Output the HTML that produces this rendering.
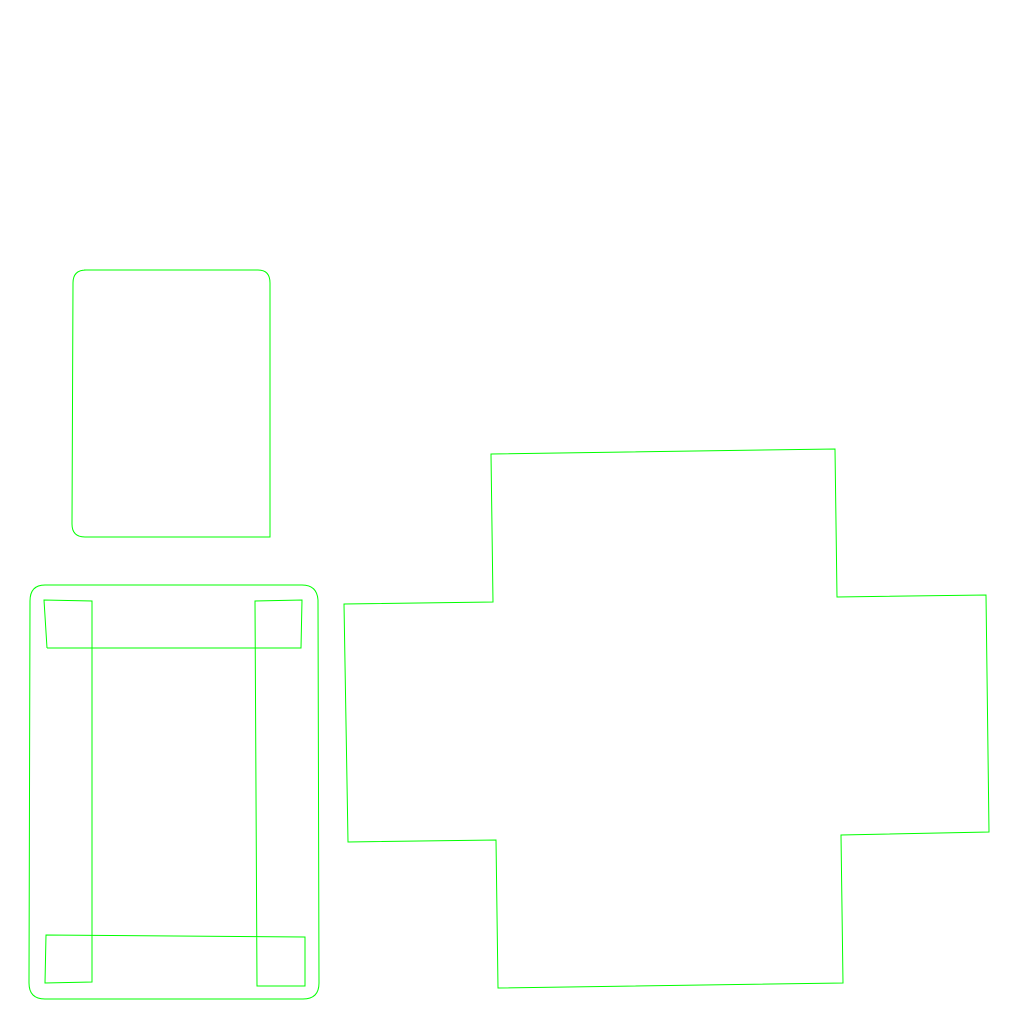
<!DOCTYPE html>
<html>
<head>
<meta charset="utf-8">
<style>
html,body{margin:0;padding:0;background:#fff;}
svg{display:block;}
</style>
</head>
<body>
<svg width="1024" height="1024" viewBox="0 0 1024 1024">
  <g fill="none" stroke="#00ff00" stroke-width="1" stroke-linejoin="miter">
    <path
      d="M84,270 L258,270 Q270,270 270,283 L270,537 L85,537 Q72,537 72,524 L73,283 Q73,270 86,270 Z"/>
    <path
      d="M45,585 L302,585 Q317,585 318,600 L319,983 Q319,999 303,999 L45,999 Q29,999 29,983 L30,601 Q30,585 45,585 Z"/>
    <polyline
      points="47,648 44,600 92,601 92,982 45,983 46,935 305,937 305,986 257,986 255,601 302,600 301,648 47,648"/>
    <polygon
      points="491,454 835,449 837,597 986,595 989,832 841,835 843,983 498,988 496,840 348,842 344,604 493,602"/>
  </g>
</svg>
</body>
</html>
